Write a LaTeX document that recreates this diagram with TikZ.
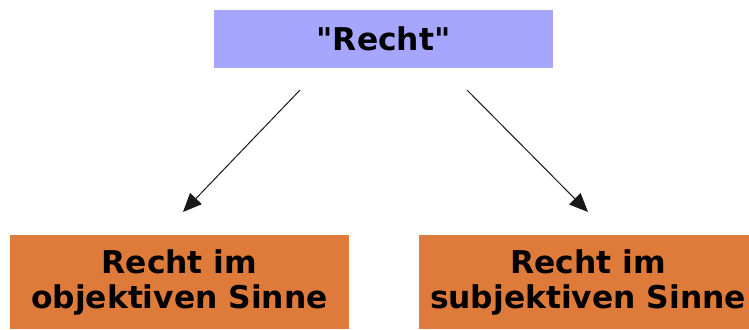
\documentclass[tikz,border=0pt]{standalone}
\usepackage{fontspec}
\setmainfont{DejaVu Sans}[Ligatures=TeXOff]
\usetikzlibrary{arrows.meta}
\definecolor{lav}{RGB}{166,166,255}
\definecolor{orng}{RGB}{223,123,58}
\tikzset{
  box/.style={inner sep=0pt, minimum width=339*0.75pt, align=center,
    font=\fontsize{23.5}{26.5}\selectfont\bfseries},
  topbox/.style={box, fill=lav, minimum height=58*0.75pt},
  lowbox/.style={box, fill=orng, minimum height=94*0.75pt},
  arr/.style={draw=black!90, line width=0.75pt, -{Triangle[length=14pt,width=12pt]}}
}
\begin{document}
\begin{tikzpicture}[x=0.75pt,y=-0.75pt]
\useasboundingbox (0,0) rectangle (749,329);
\clip (0,0) rectangle (749,329);
\node[topbox] (top) at (383.5,39) {"Recht"};
\node[lowbox, anchor=north] (obj) at (179.5,235) {Recht im\\objektiven Sinne};
\node[lowbox, anchor=north] (sub) at (588,235) {Recht im\\subjektiven Sinne};
\coordinate (s1) at (300,90);
\coordinate (e1) at (183,212);
\coordinate (s2) at (467,90);
\coordinate (e2) at (588,212);
\draw[arr] (s1) -- (e1);
\draw[arr] (s2) -- (e2);
\end{tikzpicture}
\end{document}
